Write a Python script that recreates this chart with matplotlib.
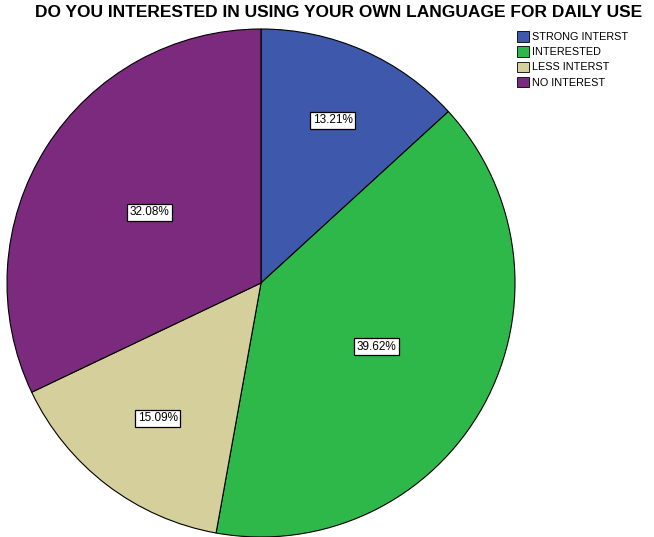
import numpy as np
import matplotlib.pyplot as plt
from matplotlib.patches import Patch

# Survey answers (counts out of 53 respondents)
categories = ['STRONG INTERST', 'INTERESTED', 'LESS INTERST', 'NO INTEREST']
counts = [7, 21, 8, 17]
colors = ['#3e58ac', '#2fb84a', '#d5cf9b', '#7b2a7e']
label_radius = [0.70, 0.52, 0.67, 0.52]

plt.rcParams['font.family'] = ['Liberation Sans', 'DejaVu Sans']

fig = plt.figure(figsize=(6.54, 5.37), dpi=100)
ax = fig.add_axes([7 / 654, 0.0, 508 / 654, 508 / 537])

wedges, _ = ax.pie(counts, colors=colors, startangle=90, counterclock=False,
                   wedgeprops=dict(edgecolor='black', linewidth=0.8))

total = sum(counts)
for w, c, r in zip(wedges, counts, label_radius):
    ang = np.deg2rad((w.theta1 + w.theta2) / 2)
    ax.text(r * np.cos(ang), r * np.sin(ang), f'{100 * c / total:.2f}%',
            ha='center', va='center', fontsize=8.5,
            bbox=dict(boxstyle='square,pad=0.2', fc='white', ec='black', lw=0.9))

ax.set_xlim(-1.0, 1.0)
ax.set_ylim(-1.0, 1.0)
ax.set_aspect('equal')
ax.axis('off')

fig.text(0.518, 0.976, 'DO YOU INTERESTED IN USING YOUR OWN LANGUAGE FOR DAILY USE',
         ha='center', va='center', fontsize=12.5, fontweight='bold')

handles = [Patch(facecolor=col, edgecolor='black', linewidth=0.6) for col in colors]
fig.legend(handles, categories, loc='upper left', bbox_to_anchor=(0.790, 0.942),
           frameon=False, fontsize=7.8, handlelength=1.1, handleheight=1.1,
           handletextpad=0.3, labelspacing=0.4, borderaxespad=0, borderpad=0)

fig.savefig('out.png', dpi=100)
